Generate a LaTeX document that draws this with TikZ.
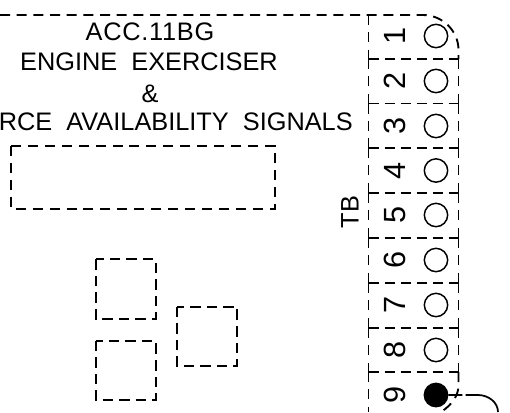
\documentclass[tikz,border=0pt]{standalone}
\usepackage{fontspec}
\setmainfont{Liberation Sans}
\tikzset{
  frame line/.style={line width=1.4pt,dash pattern=on 7.5pt off 5pt},
  cell v/.style={line width=1.4pt,dash pattern=on 7.5pt off 5.55pt},
  cell h/.style={line width=1.4pt,dash pattern=on 7.5pt off 4.5pt},
  big box/.style={line width=1.4pt,dash pattern=on 7.5pt off 5.2pt},
  small box/.style={line width=1.4pt,dash pattern=on 7.9pt off 4.5pt},
  wire/.style={line width=1.3pt,dash pattern=on 10.5pt off 2.5pt on 200pt off 1pt},
  label text/.style={inner sep=0pt,font=\fontsize{19}{19}\selectfont},
  term/.style={circle,draw,line width=1.1pt,minimum size=17.5pt,inner sep=0pt},
  termfill/.style={term,fill=black},
  digit/.style={inner sep=0pt,rotate=90,font=\fontsize{23}{23}\selectfont}
}
\begin{document}
\begin{tikzpicture}[x=0.75pt,y=-0.75pt]
\useasboundingbox (0,0) rectangle (510,412);
\fill[white] (0,0) rectangle (510,412);
\draw[frame line] (0,15) -- (423,15) .. controls (442.3,15) and (458.5,30.7) .. (458.5,50) -- (458.5,59);
\draw[frame line] (458.5,372) -- (458.5,385) .. controls (458.5,395) and (453,404) .. (441,412);
\foreach \ya/\yb in {15/59,59/103.5,103.5/148,148/193,193/238,238/283,283/328,328/372}{
  \draw[cell v] (368.5,\ya) -- (368.5,\yb);
}
\foreach \ya/\yb in {59/103.5,103.5/148,148/193,193/238,238/283,283/328,328/372}{
  \draw[cell v] (458.5,\ya) -- (458.5,\yb);
}
\draw[cell v] (368.5,372) -- (368.5,412);
\foreach \yy in {59,103.5,148,193,238,283,328,372}{
  \draw[cell h] (368.5,\yy) -- (458.5,\yy);
}
\foreach \n/\yy in {1/36,2/81,3/126,4/170.5,5/215,6/260,7/305,8/350}{
  \node[term] (t\n) at (436,\yy) {};
  \node[digit] (d\n) at (395,\yy) {\n};
}
\node[termfill] (t9) at (436,395) {};
\node[digit] (d9) at (395,395) {9};
\coordinate (w) at (498,412);
\draw[wire] (t9.east) -- (478,395) .. controls (488,395) and (498,402) .. (w);
\draw[big box] (11,146) rectangle (274.7,209);
\node[label text] (a) at (150,32) {\addfontfeature{LetterSpace=3}ACC.11BG};
\node[label text] (b) at (149,62) {ENGINE\ \ EXERCISER};
\node[label text] (c) at (150,94) {\&};
\node[label text,anchor=east] (e) at (353,122) {RCE\ \ AVAILABILITY\ \ SIGNALS};
\node[label text,rotate=90] (tb) at (350,212) {TB};
\draw[small box] (95.7,259) rectangle (155.7,318.7);
\draw[small box] (177,306.7) rectangle (237,366);
\draw[small box] (95.7,340.7) rectangle (155.7,400);
\end{tikzpicture}
\end{document}
